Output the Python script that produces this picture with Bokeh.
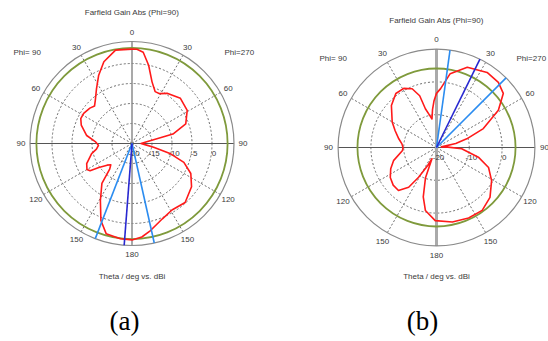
import numpy as np
from bokeh.plotting import figure
from bokeh.models import Range1d
from bokeh.core.properties import value
from bokeh.embed import file_html
from bokeh.resources import INLINE

# ---------------- data ----------------
# angle measured from the top (theta=0), counter-clockwise; 0..180 = Phi=90 side, 180..360 = Phi=270 side
a_angle = [0, 10, 19, 26, 33, 40, 45, 50, 58, 64, 70, 80, 87, 93, 99, 104, 114, 120, 123, 126,
           131, 135, 139, 143, 151, 158, 164, 173, 180, 186, 192, 202, 211, 222, 234, 243, 250,
           255, 260, 265, 270, 276, 283, 290, 301, 313, 325, 331, 336, 342, 348, 353, 357]
a_gain = [3.6, 3.7, 1.6, -1.0, -3.7, -5.75, -6.75, -6.25, -5.75, -5.75, -6.5, -8.5, -10.8, -11.6, -11.0,
          -9.6, -7.6, -7.0, -7.5, -9.75, -11.75, -12.5, -11.5, -7.5, -3.7, 0.75, 3.45, 4.0, 4.1, 3.5,
          2.25, 0.3, -0.6, -0.15, -1.6, -3.5, -6.2, -10.0, -14.5, -16.75, -17.75, -16.5, -9.5, -5.7,
          -3.9, -3.45, -4.7, -5.75, -5.8, -3.8, 0.0, 3.0, 3.6]

b_angle = [0, 3, 6, 9, 12, 16, 18, 22.5, 29, 37, 47, 60, 68, 77, 84, 90, 95, 107, 115, 123, 131,
           138.5, 145, 149, 154, 158, 160, 165, 170, 179, 192, 204.5, 216, 227, 239, 249, 257, 267,
           272, 277, 282, 286, 292, 301, 309, 316.5, 326, 339, 349.5, 356]
b_gain = [-3.5, -5.7, -8.4, -11.2, -10.0, -7.7, -3.4, -0.6, 0.6, 0.6, -1.2, -4.4, -6.4, -8.2, -9.4,
          -9.8, -9.6, -6.3, -4.6, -3.2, -2.5, -2.5, -5.2, -9.4, -13.9, -16.3, -10.2, -4.4, -0.5, 2.3,
          3.2, 3.6, 3.7, 2.3, -0.4, -3.0, -6.9, -12.3, -16.5, -18.5, -14.0, -10.4, -4.6, 2.0, 6.2,
          7.4, 7.6, 6.2, 2.9, -2.0]

# main-lobe direction and 3 dB beam edges
a_main_dir = 175.6
a_edges = [158.9, 192.6]
b_main_dir = 333.8
b_edges = [352.1, 315.0]

angle_ticks = [0, 30, 60, 90, 120, 150, 180, 210, 240, 270, 300, 330]
angle_labels = ["0", "30", "60", "90", "120", "150", "180", "150", "120", "90", "60", "30"]

a_rings = [-15, -10, -5, 0]
a_ring_labels = [-20, -15, -10, -5, 0]
b_rings = [-10, 0]
b_ring_labels = [-20, -10, 0]

min_db = -20
a_max_db = 5.5
b_max_db = 10
a_ref_db = 3.9
b_ref_db = 4.1

title_txt = "Farfield Gain Abs (Phi=90)"
xlabel_txt = "Theta / deg vs. dBi"
left_txt = "Phi= 90"
right_txt = "Phi=270"
captions = ["(a)", "(b)"]

# ---------------- layout ----------------
panels = [
    dict(cx=131.5, cy=143.0, scale=4.0, max_db=a_max_db, ref_db=a_ref_db, rings=a_rings,
         ring_labels=a_ring_labels, angle=a_angle, gain=a_gain, main=a_main_dir, edges=a_edges,
         title_y=12, lbl_r=111, label_y=52, left_x=13, right_x=224, vaxis_w=1.5, vaxis_c="#8c8c8c",
         xlabel_y=276, cap_x=124, cap_y=320),
    dict(cx=436.0, cy=147.0, scale=3.28, max_db=b_max_db, ref_db=b_ref_db, rings=b_rings,
         ring_labels=b_ring_labels, angle=b_angle, gain=b_gain, main=b_main_dir, edges=b_edges,
         title_y=19.5, lbl_r=108, label_y=57.5, left_x=319, right_x=516, vaxis_w=3, vaxis_c="#aaaaaa",
         xlabel_y=276, cap_x=422, cap_y=320),
]

FONT = value("Liberation Sans")
TXT = "#3a3a3a"

p = figure(width=548, height=341, x_range=Range1d(0, 548), y_range=Range1d(341, 0),
           output_backend="svg", toolbar_location=None, min_border=0)
p.axis.visible = False
p.grid.visible = False
p.outline_line_color = None
p.background_fill_color = "white"
p.border_fill_color = "white"


def rad(db, P):
    return (np.asarray(db, dtype=float) - min_db) * P["scale"]


def xy(angle, r, P):
    t = np.radians(np.asarray(angle, dtype=float))
    return P["cx"] - r * np.sin(t), P["cy"] - r * np.cos(t)


def label(x, y, s, align="center", size="8px", font=FONT, color=TXT):
    p.text(x=[x], y=[y], text=[s], text_font=font, text_font_size=size, text_color=color,
           text_align=align, text_baseline="middle")


for P in panels:
    R = float(rad(P["max_db"], P))
    # dotted rings
    for g in P["rings"]:
        p.circle(x=[P["cx"]], y=[P["cy"]], radius=float(rad(g, P)), fill_color=None,
                 line_color="#6e6e6e", line_dash="2 2", line_width=1)
    # dotted spokes every 30 deg (except axes)
    sp = [a for a in angle_ticks if a % 90 != 0]
    ex, ey = xy(sp, R, P)
    p.segment(x0=[P["cx"]] * len(sp), y0=[P["cy"]] * len(sp), x1=ex, y1=ey,
              line_color="#6e6e6e", line_dash="2 2", line_width=1)
    # axes
    p.segment(x0=[P["cx"] - R], y0=[P["cy"]], x1=[P["cx"] + R], y1=[P["cy"]],
              line_color="#555555", line_width=1)
    p.segment(x0=[P["cx"]], y0=[P["cy"] - R], x1=[P["cx"]], y1=[P["cy"] + R],
              line_color=P["vaxis_c"], line_width=P["vaxis_w"])
    # outer circle and reference circle
    p.circle(x=[P["cx"]], y=[P["cy"]], radius=R, fill_color=None, line_color="#8a8a8a", line_width=1.2)
    p.circle(x=[P["cx"]], y=[P["cy"]], radius=float(rad(P["ref_db"], P)), fill_color=None,
             line_color="#7f9a3c", line_width=1.8)
    # angle labels
    lx, ly = xy(angle_ticks, P["lbl_r"], P)
    p.text(x=lx, y=ly, text=angle_labels, text_font=FONT, text_font_size="8px", text_color=TXT,
           text_align="center", text_baseline="middle")
    # ring value labels
    rl = np.asarray(P["ring_labels"], dtype=float)
    p.text(x=P["cx"] + rad(rl, P) + 2, y=[P["cy"] + 10] * len(rl), text=[str(int(v)) for v in rl],
           text_font=FONT, text_font_size="8px", text_color=TXT, text_align="center",
           text_baseline="middle")
    # titles and side labels
    label(P["cx"], P["title_y"], title_txt)
    label(P["left_x"], P["label_y"], left_txt, align="left")
    label(P["right_x"], P["label_y"], right_txt, align="left")
    label(P["cx"], P["xlabel_y"], xlabel_txt)
    # gain curve
    ang = list(P["angle"]) + [P["angle"][0]]
    gn = list(P["gain"]) + [P["gain"][0]]
    cx_, cy_ = xy(ang, rad(gn, P), P)
    p.line(x=cx_, y=cy_, line_color="#ff1a1a", line_width=1.6, line_join="round")
    # beam lines
    for a in P["edges"]:
        bx, by = xy([a], R, P)
        p.segment(x0=[P["cx"]], y0=[P["cy"]], x1=bx, y1=by, line_color="#2b8cf0", line_width=1.6)
    bx, by = xy([P["main"]], R, P)
    p.segment(x0=[P["cx"]], y0=[P["cy"]], x1=bx, y1=by, line_color="#2828d0", line_width=1.6)

for P, cap in zip(panels, captions):
    label(P["cap_x"], P["cap_y"], cap, size="27px", font=value("Liberation Serif"), color="#000000")

open("out.html", "w").write(file_html(p, INLINE))
